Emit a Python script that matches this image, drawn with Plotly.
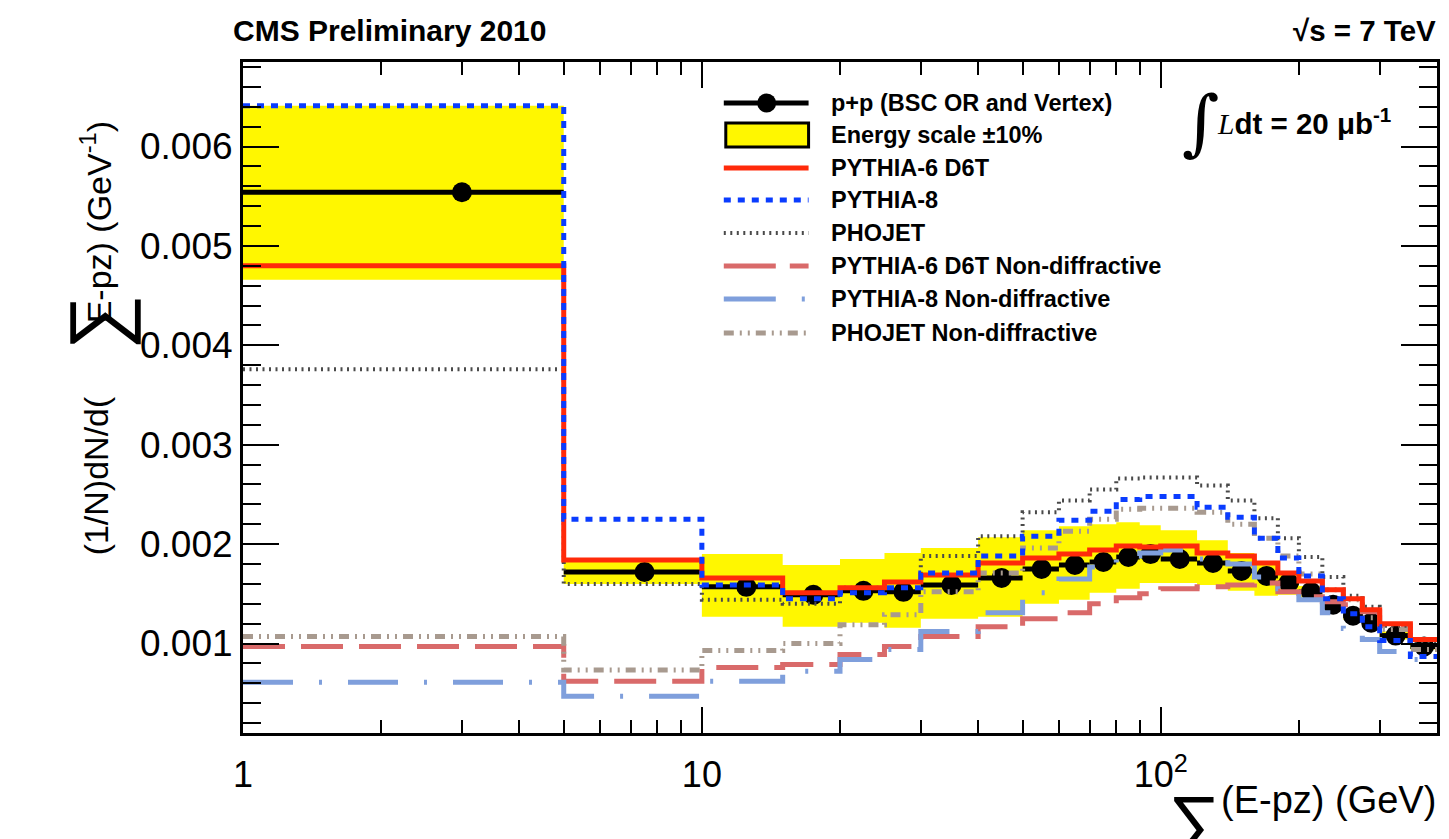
import plotly.graph_objects as go

# Bin edges of the sum(E-pz) histogram (GeV) and bin centres
edges = [1, 5, 10, 15, 20, 25, 30, 40, 50, 60, 70, 80, 90, 100, 120, 140, 160,
         180, 200, 225, 250, 275, 300, 350, 400]
centers = [3, 7.5, 12.5, 17.5, 22.5, 27.5, 35, 45, 55, 65, 75, 85, 95, 110, 130,
           150, 170, 190, 212.5, 237.5, 262.5, 287.5, 325, 375]

# Measured distribution, p+p (BSC OR and Vertex)
data_pp = [0.00554, 0.00172, 0.00157, 0.00149, 0.00153, 0.00152, 0.00159, 0.00166,
           0.00175, 0.00179, 0.00182, 0.00187, 0.00190, 0.00185, 0.00181, 0.00173,
           0.00168, 0.00161, 0.00152, 0.00139, 0.00128, 0.00121, 0.00108, 0.00097]

# Energy scale +-10% band
band_lo = [0.00466, 0.00160, 0.00127, 0.00117, 0.00121, 0.00116, 0.00125, 0.00127,
           0.00140, 0.00144, 0.00151, 0.00155, 0.00161, 0.00161, 0.00159, 0.00153,
           0.00148, 0.00149, 0.00146, 0.00134, 0.00124, 0.00117, 0.00104, 0.00094]
band_hi = [0.00641, 0.00186, 0.00190, 0.00179, 0.00185, 0.00191, 0.00196, 0.00207,
           0.00214, 0.00218, 0.00220, 0.00222, 0.00219, 0.00214, 0.00204, 0.00191,
           0.00179, 0.00171, 0.00158, 0.00144, 0.00132, 0.00125, 0.00112, 0.00100]

# Generator predictions
pythia6 = [0.00480, 0.00184, 0.00166, 0.00151, 0.00156, 0.00162, 0.00169, 0.00181,
           0.00186, 0.00190, 0.00194, 0.00198, 0.00197, 0.00198, 0.00191, 0.00188,
           0.00181, 0.00171, 0.00163, 0.00154, 0.00145, 0.00134, 0.00120, 0.00104]
pythia8 = [0.00641, 0.00225, 0.00159, 0.00145, 0.00151, 0.00156, 0.00171, 0.00188,
           0.00208, 0.00224, 0.00233, 0.00245, 0.00248, 0.00248, 0.00237, 0.00227,
           0.00206, 0.00186, 0.00168, 0.00145, 0.00130, 0.00117, 0.00103, 0.00087]
phojet = [0.00376, 0.00160, 0.00144, 0.00140, 0.00156, 0.00162, 0.00188, 0.00208,
          0.00232, 0.00244, 0.00255, 0.00266, 0.00267, 0.00267, 0.00259, 0.00244,
          0.00226, 0.00206, 0.00187, 0.00167, 0.00148, 0.00137, 0.00118, 0.00102]
pythia6_nd = [0.00097, 0.00062, 0.00076, 0.00079, 0.00089, 0.00097, 0.00107, 0.00117,
              0.00125, 0.00131, 0.00140, 0.00146, 0.00150, 0.00155, 0.00157, 0.00159,
              0.00161, 0.00152, 0.00147, 0.00142, 0.00139, 0.00132, 0.00118, 0.00104]
pythia8_nd = [0.00061, 0.00047, 0.00062, 0.00072, 0.00084, 0.00094, 0.00112, 0.00131,
              0.00151, 0.00165, 0.00177, 0.00188, 0.00191, 0.00194, 0.00185, 0.00180,
              0.00167, 0.00155, 0.00144, 0.00131, 0.00115, 0.00104, 0.00092, 0.00084]
phojet_nd = [0.00107, 0.000735, 0.00093, 0.00100, 0.00119, 0.00129, 0.00152, 0.00171,
             0.00196, 0.00213, 0.00225, 0.00235, 0.00236, 0.00236, 0.00232, 0.00220,
             0.00206, 0.00188, 0.00170, 0.00154, 0.00144, 0.00126, 0.00114, 0.00094]

legend_labels = ["p+p (BSC OR and Vertex)", "Energy scale \u00b110%", "PYTHIA-6 D6T",
                 "PYTHIA-8", "PHOJET", "PYTHIA-6 D6T Non-diffractive",
                 "PYTHIA-8 Non-diffractive", "PHOJET Non-diffractive"]

x_tickvals = [1, 10, 100]
x_ticktext = ["1", "10", "10<sup>2</sup>"]
x_minor = [2, 3, 4, 5, 6, 7, 8, 9, 20, 30, 40, 50, 60, 70, 80, 90, 200, 300, 400]

FONT = "Liberation Sans, Arial, Helvetica, sans-serif"

# geometry of the plotting frame in pixels
W, H = 1449, 839
L, R, T, B = 243, 1440, 62, 733


def fx(p):
    return (p - L) / (R - L)


def fy(p):
    return (B - p) / (B - T)


def step(vals):
    return list(edges), list(vals) + [vals[-1]]


fig = go.Figure()

# energy scale band as one step polygon
bx, by = [], []
for i in range(len(band_hi)):
    bx += [edges[i], edges[i + 1]]
    by += [band_hi[i], band_hi[i]]
for i in reversed(range(len(band_lo))):
    bx += [edges[i + 1], edges[i]]
    by += [band_lo[i], band_lo[i]]
fig.add_trace(go.Scatter(x=bx, y=by, fill="toself", fillcolor="#fff700",
                         line=dict(width=0), mode="lines", hoverinfo="skip",
                         showlegend=False))

# data points with bin-width bars
fig.add_trace(go.Scatter(
    x=centers, y=data_pp, mode="markers",
    marker=dict(size=20, color="black"),
    error_x=dict(type="data", symmetric=False,
                 array=[edges[i + 1] - c for i, c in enumerate(centers)],
                 arrayminus=[c - edges[i] for i, c in enumerate(centers)],
                 thickness=5, width=0, color="black"),
    showlegend=False))

styles = [
    (pythia6_nd, "#d96a6a", 5, "42px,16px"),
    (pythia8_nd, "#7f9fdc", 5, "50px,26px,3px,26px"),
    (phojet_nd, "#a89a8f", 5, "10px,6px,2px,6px,2px,6px"),
    (phojet, "#4a4a4a", 4, "2px,4.5px"),
    (pythia6, "#ff2a0a", 5, "solid"),
    (pythia8, "#0a3cff", 5, "7px,7px"),
]
for vals, col, wd, dash in styles:
    sx, sy = step(vals)
    fig.add_trace(go.Scatter(x=sx, y=sy, mode="lines", line_shape="hv",
                             line=dict(color=col, width=wd, dash=dash),
                             showlegend=False, hoverinfo="skip"))

shapes = []
annotations = []


def note(text, x, y, size, xa="center", ya="middle", angle=0, family=FONT):
    annotations.append(dict(text=text, xref="paper", yref="paper", x=fx(x), y=fy(y),
                            xanchor=xa, yanchor=ya, textangle=angle, showarrow=False,
                            font=dict(family=family, size=size, color="black")))


# hand-built legend
leg_y = [103, 135, 168, 200, 233, 266, 299, 333]
x0, x1, xt = 725, 810, 830
shapes.append(dict(type="line", xref="paper", yref="paper", x0=fx(x0), x1=fx(x1),
                   y0=fy(leg_y[0]), y1=fy(leg_y[0]), line=dict(color="black", width=5)))
shapes.append(dict(type="circle", xref="paper", yref="paper",
                   x0=fx(768 - 9.5), x1=fx(768 + 9.5), y0=fy(leg_y[0] - 9.5),
                   y1=fy(leg_y[0] + 9.5), fillcolor="black", line=dict(width=0)))
shapes.append(dict(type="rect", xref="paper", yref="paper", x0=fx(727), x1=fx(810),
                   y0=fy(leg_y[1] + 12), y1=fy(leg_y[1] - 12), fillcolor="#fff700",
                   line=dict(color="black", width=3)))
leg_styles = [
    ("#ff2a0a", 5, "solid"),
    ("#0a3cff", 5, "7px,7px"),
    ("#4a4a4a", 4, "2px,4.5px"),
    ("#d96a6a", 5, "52px,14px"),
    ("#7f9fdc", 5, "52px,26px,3px,26px"),
    ("#a89a8f", 5, "10px,6px,2px,6px,2px,6px"),
]
for k, (col, wd, dash) in enumerate(leg_styles):
    yy = fy(leg_y[k + 2])
    shapes.append(dict(type="line", xref="paper", yref="paper", x0=fx(x0), x1=fx(x1),
                       y0=yy, y1=yy, line=dict(color=col, width=wd, dash=dash)))
for k, lab in enumerate(legend_labels):
    note("<b>%s</b>" % lab, xt, leg_y[k], 23.5, xa="left")

# header texts
note("<b>CMS Preliminary 2010</b>", 231, 30, 30, xa="left")
note("<b>\u221as = 7 TeV</b>", 1441, 30, 29.5, xa="right")
note("\u222b", 1203, 122, 72, family="DejaVu Serif, serif")
note("<span style='font-family:Liberation Serif;font-style:italic'>L</span>"
     "<b>dt = 20 \u03bcb<sup>-1</sup></b>", 1217, 122, 29.5, xa="left")

# axis titles, with an enlarged summation sign
note("(1/N)dN/d(", 96, 476, 34, angle=-90)
note("\u2211", 97, 322, 78, angle=-90)
note("E-pz) (GeV<sup>-1</sup>)", 96, 222, 34, angle=-90)
note("\u2211", 1197, 822, 74)
note("(E-pz) (GeV)", 1441, 800, 38, xa="right")

fig.update_layout(
    width=W, height=H,
    margin=dict(l=L, r=W - R, t=T, b=H - B),
    paper_bgcolor="white", plot_bgcolor="white",
    showlegend=False,
    shapes=shapes, annotations=annotations,
    font=dict(family=FONT, color="black"),
)
fig.update_xaxes(
    type="log", range=[0, 2.60206], showgrid=False, zeroline=False,
    showline=True, linecolor="black", linewidth=3, mirror="allticks",
    ticks="inside", ticklen=26, tickwidth=2, tickcolor="black",
    tickmode="array", tickvals=x_tickvals, ticktext=x_ticktext,
    tickfont=dict(family=FONT, size=36), ticklabelstandoff=8,
    minor=dict(tickmode="array", tickvals=x_minor, ticks="inside", ticklen=13,
               tickwidth=2, tickcolor="black", showgrid=False),
)
fig.update_yaxes(
    range=[0.0001, 0.00685], showgrid=False, zeroline=False,
    showline=True, linecolor="black", linewidth=3, mirror="allticks",
    ticks="inside", ticklen=36, tickwidth=2, tickcolor="black",
    tick0=0, dtick=0.001, tickformat=".3f",
    tickfont=dict(family=FONT, size=37), ticklabelstandoff=0,
    minor=dict(dtick=0.0002, ticks="inside", ticklen=18, tickwidth=2,
               tickcolor="black", showgrid=False),
)

fig.write_html("out.html")
